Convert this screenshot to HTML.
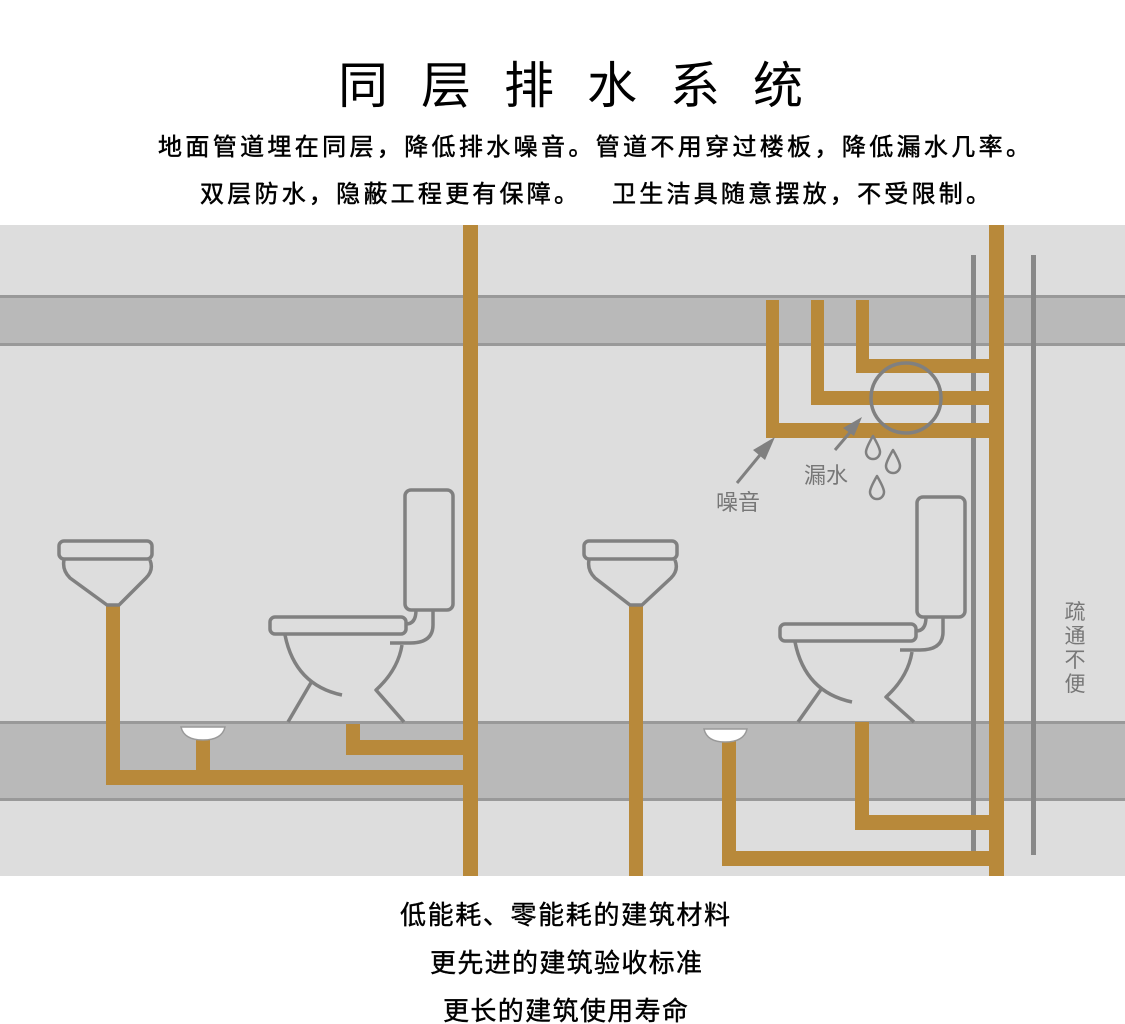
<!DOCTYPE html>
<html><head><meta charset="utf-8"><style>
body{margin:0;background:#fff;width:1125px;height:1024px;overflow:hidden}
svg{display:block}
</style></head><body>
<svg width="1125" height="1024" xmlns="http://www.w3.org/2000/svg" font-family="'Liberation Sans','Noto Sans CJK SC',sans-serif">
<rect width="1125" height="1024" fill="#fff"/>
<text x="338" y="103" font-size="50" fill="#000" textLength="465">同层排水系统</text>
<g stroke="#000" stroke-width="0.5">
<text x="158" y="155" font-size="24" fill="#000" textLength="872">地面管道埋在同层，降低排水噪音。管道不用穿过楼板，降低漏水几率。</text>
<text x="200" y="202" font-size="24" fill="#000" textLength="378">双层防水，隐蔽工程更有保障。</text>
<text x="612" y="202" font-size="24" fill="#000" textLength="378">卫生洁具随意摆放，不受限制。</text>
</g>
<!-- diagram bg -->
<rect x="0" y="225" width="1125" height="651" fill="#dddddd"/>
<!-- slabs -->
<rect x="0" y="296" width="1125" height="49" fill="#b9b9b9"/>
<rect x="0" y="295" width="1125" height="3" fill="#999"/>
<rect x="0" y="343" width="1125" height="3" fill="#999"/>
<rect x="0" y="722" width="1125" height="78" fill="#b9b9b9"/>
<rect x="0" y="721" width="1125" height="3" fill="#999"/>
<rect x="0" y="798" width="1125" height="3" fill="#999"/>
<rect x="971" y="255" width="5" height="600" fill="#888"/>
<rect x="1031" y="255" width="5" height="600" fill="#888"/>
<g fill="#b8893a">
<rect x="463" y="225" width="15" height="651"/>
<rect x="106" y="605" width="14" height="180"/>
<rect x="106" y="770" width="360" height="15"/>
<rect x="196" y="738" width="14" height="36"/>
<rect x="346" y="724" width="14" height="31"/>
<rect x="346" y="740" width="120" height="15"/>
<rect x="989" y="225" width="15" height="651"/>
<rect x="629" y="605" width="14" height="271"/>
<rect x="722" y="740" width="14" height="126"/>
<rect x="722" y="851" width="270" height="15"/>
<rect x="855" y="722" width="14" height="108"/>
<rect x="855" y="815" width="137" height="15"/>
<rect x="766" y="300" width="13" height="138"/>
<rect x="766" y="423" width="226" height="15"/>
<rect x="811" y="300" width="13" height="105"/>
<rect x="811" y="391" width="181" height="14"/>
<rect x="856" y="300" width="13" height="73"/>
<rect x="856" y="359" width="136" height="14"/>
</g>
<g fill="none" stroke="#808080" stroke-width="3.5" stroke-linejoin="round">
<rect x="59" y="541" width="93" height="18" rx="5"/>
<path d="M64 560 Q62 570 70 578 L107 605 L119 605 L146 578 Q154 570 150 560"/>
<rect x="405" y="490" width="48" height="120" rx="6"/>
<rect x="270" y="617" width="136" height="17" rx="5"/>
<path d="M406 624 Q416 624 416 610 M433 610 L433 625 Q433 643 410 643 L390 643"/>
<path d="M285 635 Q295 685 342 695"/>
<path d="M312 681 L288 722"/>
<path d="M402 645 Q398 670 376 690 L404 722"/>
<rect x="584" y="541" width="93" height="18" rx="5"/>
<path d="M589 560 Q587 570 595 578 L630 605 L642 605 L671 578 Q679 570 675 560"/>
<rect x="917" y="497" width="48" height="120" rx="6"/>
<rect x="780" y="624" width="136" height="17" rx="5"/>
<path d="M916 631 Q926 631 926 617 M943 617 L943 632 Q943 650 920 650 L900 650"/>
<path d="M795 642 Q805 692 852 702"/>
<path d="M822 688 L798 722"/>
<path d="M912 652 Q908 677 886 697 L914 722"/>
<circle cx="906" cy="398" r="35"/>
<path d="M873 436 Q866 448 866 452 A7 7 0 0 0 880 452 Q880 448 873 436Z" stroke-width="2.5"/>
<path d="M893 450 Q886 462 886 466 A7 7 0 0 0 900 466 Q900 462 893 450Z" stroke-width="2.5"/>
<path d="M877 476 Q870 488 870 492 A7 7 0 0 0 884 492 Q884 488 877 476Z" stroke-width="2.5"/>
<path d="M737 483 L760 455" stroke-width="3"/>
<path d="M835 450 L852 430" stroke-width="3"/>
</g>
<g fill="#808080">
<path d="M775 437 L753 450 L765 460Z"/>
<path d="M862 417 L843 428 L854 436Z"/>
</g>
<path d="M181 727 L225 727 Q222 740 203 740 Q184 740 181 727Z" fill="#fff" stroke="#999" stroke-width="1.5"/>
<path d="M704 729 L747 729 Q744 742 725 742 Q707 742 704 729Z" fill="#fff" stroke="#999" stroke-width="1.5"/>
<g fill="#777" font-size="22">
<text x="716" y="510">噪音</text>
<text x="804" y="483">漏水</text>
</g>
<g fill="#777" font-size="21" text-anchor="middle">
<text x="1075" y="619">疏</text>
<text x="1075" y="643">通</text>
<text x="1075" y="667">不</text>
<text x="1075" y="691">便</text>
</g>
<g font-size="26" fill="#000" stroke="#000" stroke-width="0.4">
<text x="400" y="924" textLength="330">低能耗、零能耗的建筑材料</text>
<text x="430" y="972" textLength="272">更先进的建筑验收标准</text>
<text x="443" y="1020" textLength="245">更长的建筑使用寿命</text>
</g>
</svg>
</body></html>
